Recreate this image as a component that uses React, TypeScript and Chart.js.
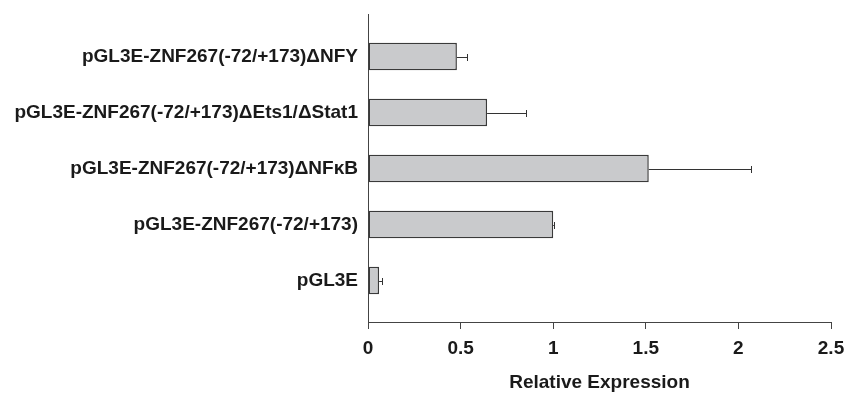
import React, { useEffect, useRef } from "react";
import { Chart, registerables } from "chart.js";

Chart.register(...registerables);

const categories = [
  "pGL3E-ZNF267(-72/+173)\u0394NFY",
  "pGL3E-ZNF267(-72/+173)\u0394Ets1/\u0394Stat1",
  "pGL3E-ZNF267(-72/+173)\u0394NF\u03BAB",
  "pGL3E-ZNF267(-72/+173)",
  "pGL3E",
];
const values = [0.48, 0.643, 1.516, 1.0, 0.06];
const errors = [0.055, 0.21, 0.55, 0.004, 0.013];
const xTicks = [0, 0.5, 1, 1.5, 2, 2.5];
const xTickLabels = ["0", "0.5", "1", "1.5", "2", "2.5"];

const FONT = '"Liberation Sans", Arial, Helvetica, sans-serif';

const errorBarPlugin = {
  id: "errorBars",
  afterDatasetsDraw(chart: any) {
    const ctx = chart.ctx;
    const xs = chart.scales.x;
    const ys = chart.scales.y;
    ctx.save();
    ctx.strokeStyle = "#333";
    ctx.lineWidth = 1;
    values.forEach((v, i) => {
      const y = Math.round(ys.getPixelForValue(i)) + 0.5;
      const x1 = xs.getPixelForValue(v);
      const x2 = Math.round(xs.getPixelForValue(v + errors[i])) + 0.5;
      ctx.beginPath();
      ctx.moveTo(x1, y);
      ctx.lineTo(x2, y);
      ctx.moveTo(x2, y - 3.5);
      ctx.lineTo(x2, y + 3.5);
      ctx.stroke();
    });
    ctx.restore();
  },
};

export default function App() {
  const ref = useRef<HTMLCanvasElement | null>(null);
  useEffect(() => {
    if (!ref.current) return;
    const chart = new Chart(ref.current, {
      type: "bar",
      data: {
        datasets: [
          {
            data: values.map((v, i) => ({ x: v, y: i })),
            backgroundColor: "#c9cacc",
            borderColor: "#3a3a3a",
            borderWidth: 1.5,
            borderSkipped: false,
            barPercentage: 0.49,
            categoryPercentage: 1,
          },
        ],
      },
      options: {
        indexAxis: "y",
        animation: false,
        responsive: false,
        layout: { padding: { left: 0, right: 15, top: 14, bottom: 0 } },
        plugins: { legend: { display: false }, tooltip: { enabled: false } },
        scales: {
          x: {
            type: "linear",
            min: 0,
            max: 2.5,
            afterBuildTicks: (s: any) => {
              s.ticks = xTicks.map((v) => ({ value: v }));
            },
            afterFit: (s: any) => {
              s.height = 73;
              s.paddingLeft = 0;
              s.paddingRight = 0;
            },
            grid: { drawOnChartArea: false, drawTicks: true, tickLength: 7, color: "#444" },
            border: { display: true, color: "#444", width: 1 },
            ticks: {
              font: { family: FONT, size: 19, weight: "bold" },
              color: "#1a1a1a",
              padding: 8,
              callback: (v: any) => {
                const k = xTicks.indexOf(Number(v));
                return k >= 0 ? xTickLabels[k] : "";
              },
            },
            title: {
              display: true,
              text: "Relative Expression",
              font: { family: FONT, size: 19, weight: "bold" },
              color: "#1a1a1a",
              padding: { top: 4, bottom: 1 },
            },
          },
          y: {
            type: "linear",
            reverse: true,
            offset: false,
            min: -0.76,
            max: 4.74,
            afterBuildTicks: (s: any) => {
              s.ticks = categories.map((_, i) => ({ value: i }));
            },
            afterFit: (s: any) => {
              s.width = 368;
              s.paddingTop = 0;
              s.paddingBottom = 0;
            },
            grid: { display: false, drawTicks: false, offset: false },
            border: { display: true, color: "#444", width: 1 },
            ticks: {
              autoSkip: false,
              font: { family: FONT, size: 19, weight: "bold" },
              color: "#1a1a1a",
              padding: 10,
              callback: (v: any) => categories[Math.round(Number(v))] ?? "",
            },
          },
        },
      },
      plugins: [errorBarPlugin],
    });
    return () => chart.destroy();
  }, []);
  return (
    <div style={{ position: "absolute", left: 0, top: 0, width: 846, height: 395 }}>
      <canvas ref={ref} width={846} height={395} />
    </div>
  );
}
